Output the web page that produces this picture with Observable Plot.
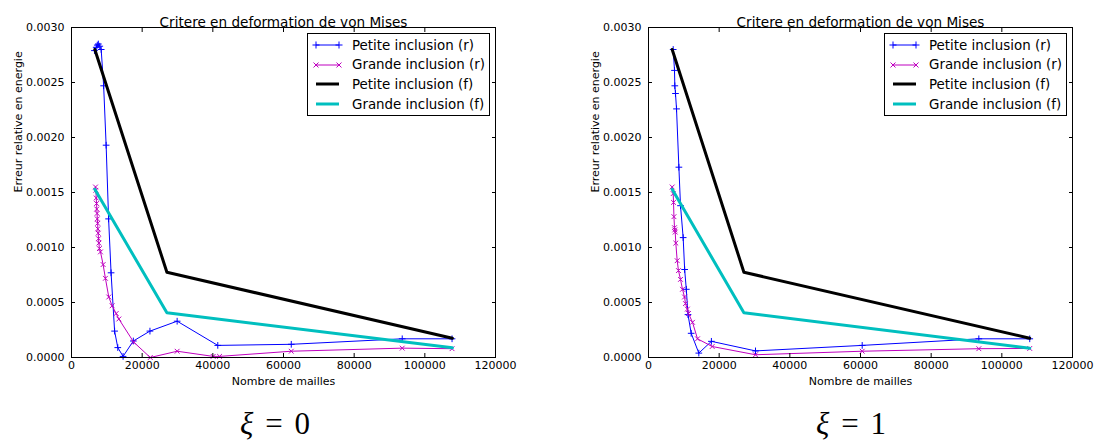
<!DOCTYPE html>
<html>
<head>
<meta charset="utf-8">
<script src="https://cdn.jsdelivr.net/npm/d3@7"></script>
<script src="https://cdn.jsdelivr.net/npm/@observablehq/plot@0.6"></script>
<style>
  html, body { margin: 0; padding: 0; background: white; }
  #root { position: relative; width: 1094px; height: 445px; overflow: hidden; font-family: "DejaVu Sans", sans-serif; }
  .panel { position: absolute; top: 0; }
  .legend { position: absolute; border: 1px solid black; background: white; box-sizing: border-box; font-size: 13.4px; }
  .legend .row { position: absolute; left: 0; height: 20px; display: flex; align-items: center; white-space: nowrap; }
  .xi { position: absolute; font-family: "Liberation Serif", "DejaVu Serif", serif; font-size: 31px; line-height: 34px; word-spacing: 4px; transform: translate(-50%, -50%); white-space: nowrap; }
</style>
</head>
<body>
<div id="root"></div>
<script>
// ---------- data ----------
const chartTitle = "Critere en deformation de von Mises";
const xLabel = "Nombre de mailles";
const yLabel = "Erreur relative en energie";
const xTicks = [0, 20000, 40000, 60000, 80000, 100000, 120000];
const yTicks = [0, 0.0005, 0.0010, 0.0015, 0.0020, 0.0025, 0.0030];
const seriesNames = ["Petite inclusion (r)", "Grande inclusion (r)", "Petite inclusion (f)", "Grande inclusion (f)"];
const seriesColors = ["#0000ff", "#bf00bf", "#000000", "#00bfbf"];
const panelLabels = ["0", "1"];

// xi = 0
const petiteR0Mesh = [6500, 7000, 7300, 7600, 8000, 8400, 9100, 9800, 10500, 11200, 12200, 13100, 14600, 17500, 22200, 29900, 41400, 62200, 93600, 107700];
const petiteR0 = [0.00279, 0.00282, 0.00284, 0.00285, 0.00283, 0.00280, 0.00247, 0.00193, 0.00126, 0.00077, 0.00024, 0.00009, 0.00001, 0.00015, 0.00024, 0.00033, 0.00011, 0.00012, 0.00017, 0.00017];
const grandeR0Mesh = [6800, 6900, 7000, 7100, 7150, 7250, 7300, 7400, 7450, 7550, 7650, 7750, 7900, 8200, 8950, 9600, 10550, 11500, 12650, 13400, 17600, 22300, 29900, 40100, 41900, 62200, 93600, 107700];
const grandeR0 = [0.00155, 0.00152, 0.00145, 0.00140, 0.00135, 0.00131, 0.00126, 0.00122, 0.00117, 0.00113, 0.00108, 0.00104, 0.00099, 0.00096, 0.000845, 0.00072, 0.00055, 0.00047, 0.00040, 0.00035, 0.00014, 0.0000, 0.000057, 0.00001, 0.00001, 0.000057, 0.000085, 0.00008];
const meshF0 = [6600, 27000, 107800];
const petiteF0 = [0.00280, 0.000775, 0.000175];
const grandeF0 = [0.00153, 0.000406, 0.000088];

// xi = 1
const petiteR1Mesh = [6990, 7360, 7450, 7640, 7930, 8600, 9060, 9810, 10230, 10700, 11180, 12080, 14240, 17800, 30280, 60480, 93490, 107900];
const petiteR1 = [0.00280, 0.00261, 0.00247, 0.00240, 0.00226, 0.00173, 0.00138, 0.00109, 0.00080, 0.00062, 0.00039, 0.00022, 0.00004, 0.000147, 0.00006, 0.00011, 0.00017, 0.00017];
const grandeR1Mesh = [6700, 6990, 7080, 7200, 7360, 7440, 7560, 7730, 8120, 8490, 9060, 9620, 10200, 10470, 11000, 11320, 12450, 13870, 18030, 30280, 60480, 93490, 107900];
const grandeR1 = [0.00155, 0.00149, 0.00141, 0.00128, 0.00118, 0.00116, 0.00114, 0.00104, 0.00088, 0.00079, 0.00071, 0.00062, 0.00055, 0.00049, 0.00044, 0.00040, 0.00032, 0.00017, 0.00010, 0.000025, 0.000057, 0.000080, 0.000082];
const meshF1 = [6700, 27000, 107900];
const petiteF1 = [0.00280, 0.000775, 0.000175];
const grandeF1 = [0.00153, 0.000406, 0.000085];

// ---------- build ----------
const zip = (xs, ys) => xs.map((x, i) => ({x, y: ys[i]}));

const panels = [
  {series: [zip(petiteR0Mesh, petiteR0), zip(grandeR0Mesh, grandeR0), zip(meshF0, petiteF0), zip(meshF0, grandeF0)],
   left: 0, marginLeft: 71, marginRight: 52, legendLeft: 307, xiCenter: 275},
  {series: [zip(petiteR1Mesh, petiteR1), zip(grandeR1Mesh, grandeR1), zip(meshF1, petiteF1), zip(meshF1, grandeF1)],
   left: 547, marginLeft: 101, marginRight: 22, legendLeft: 884, xiCenter: 851}
];

const root = document.getElementById("root");

panels.forEach((p, pi) => {
  const [pr, gr, pf, gf] = p.series;
  const chart = Plot.plot({
    width: 547,
    height: 395,
    marginLeft: p.marginLeft,
    marginRight: p.marginRight,
    marginTop: 27,
    marginBottom: 38,
    x: {domain: [0, 120000]},
    y: {domain: [0, 0.003]},
    style: {fontFamily: "DejaVu Sans, sans-serif", fontSize: "11px", background: "white", color: "black", overflow: "visible"},
    marks: [
      Plot.line(pr, {x: "x", y: "y", stroke: seriesColors[0], strokeWidth: 1}),
      Plot.dot(pr, {x: "x", y: "y", symbol: "plus", stroke: seriesColors[0], r: 2.3, strokeWidth: 1}),
      Plot.line(gr, {x: "x", y: "y", stroke: seriesColors[1], strokeWidth: 1}),
      Plot.dot(gr, {x: "x", y: "y", symbol: "times", stroke: seriesColors[1], r: 2.3, strokeWidth: 1}),
      Plot.line(pf, {x: "x", y: "y", stroke: seriesColors[2], strokeWidth: 3}),
      Plot.line(gf, {x: "x", y: "y", stroke: seriesColors[3], strokeWidth: 3}),
      Plot.frame({stroke: "black"}),
      Plot.axisX({anchor: "bottom", ticks: xTicks, tickSize: -4, tickPadding: 8, tickFormat: d => String(d), label: null}),
      Plot.axisX({anchor: "top", ticks: xTicks, tickSize: -4, tickFormat: () => "", label: null}),
      Plot.axisY({anchor: "left", ticks: yTicks, tickSize: -4, tickPadding: 11, tickFormat: d => d.toFixed(4), label: null}),
      Plot.axisY({anchor: "right", ticks: yTicks, tickSize: -4, tickFormat: () => "", label: null}),
      Plot.text([chartTitle], {frameAnchor: "top", dy: -10, fontSize: 13.6}),
      Plot.text([xLabel], {frameAnchor: "bottom", dy: 27, fontSize: 11}),
      Plot.text([yLabel], {frameAnchor: "left", dx: -53, rotate: -90, fontSize: 11})
    ]
  });
  const wrap = document.createElement("div");
  wrap.className = "panel";
  wrap.style.left = p.left + "px";
  wrap.appendChild(chart);
  root.appendChild(wrap);

  // legend
  const lg = document.createElement("div");
  lg.className = "legend";
  lg.style.left = p.legendLeft + "px";
  lg.style.top = "33px";
  lg.style.width = "183px";
  lg.style.height = "83px";
  seriesNames.forEach((name, i) => {
    const row = document.createElement("div");
    row.className = "row";
    row.style.top = (1 + i * 19.7) + "px";
    const svg = d3.create("svg").attr("width", 44).attr("height", 20);
    svg.append("line").attr("x1", 8).attr("x2", 31).attr("y1", 10).attr("y2", 10)
      .attr("stroke", seriesColors[i]).attr("stroke-width", i < 2 ? 1 : 3);
    if (i < 2) {
      const sym = d3.symbol(i === 0 ? d3.symbolPlus : d3.symbolTimes, 18);
      [8, 31].forEach(cx => svg.append("path").attr("d", sym()).attr("transform", `translate(${cx},10)`)
        .attr("fill", "none").attr("stroke", seriesColors[i]).attr("stroke-width", 1));
    }
    row.appendChild(svg.node());
    const t = document.createElement("span");
    t.textContent = name;
    row.appendChild(t);
    lg.appendChild(row);
  });
  root.appendChild(lg);

  // xi label
  const xi = document.createElement("div");
  xi.className = "xi";
  xi.style.left = p.xiCenter + "px";
  xi.style.top = "424px";
  xi.innerHTML = "<i>ξ</i> = " + panelLabels[pi];
  root.appendChild(xi);
});
</script>
</body>
</html>
